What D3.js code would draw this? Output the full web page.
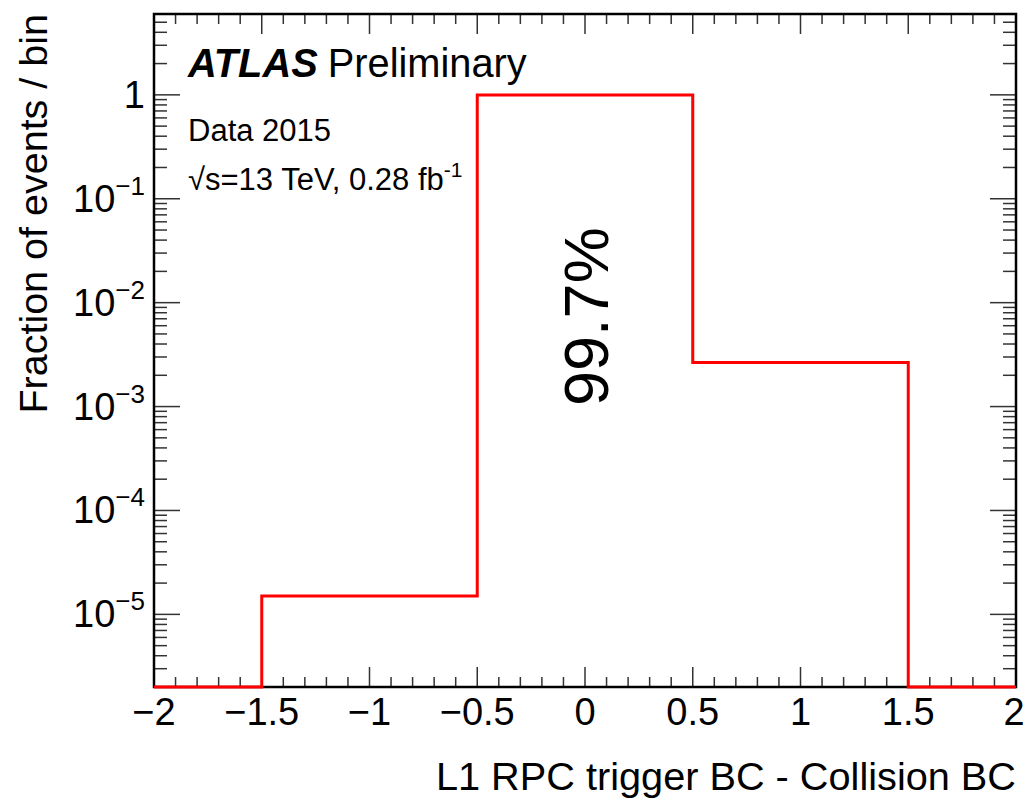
<!DOCTYPE html>
<html>
<head>
<meta charset="utf-8">
<script src="https://cdn.jsdelivr.net/npm/d3@7"></script>
<style>
  html, body { margin: 0; padding: 0; background: #fff; }
  svg { display: block; font-family: "Liberation Sans", Arial, Helvetica, sans-serif; }
</style>
</head>
<body>
<svg id="chart" width="1025" height="799"></svg>
<script>
// ---- data ----
const binEdges = [-2, -1.5, -0.5, 0.5, 1.5, 2];
const fractions = [0, 1.5e-5, 0.997, 2.65e-3, 0];
const xTickValues = [-2, -1.5, -1, -0.5, 0, 0.5, 1, 1.5, 2];
const xTickLabels = ["\u22122", "\u22121.5", "\u22121", "\u22120.5", "0", "0.5", "1", "1.5", "2"];
const yDecades = [1e-5, 1e-4, 1e-3, 1e-2, 1e-1, 1];
const yExponents = ["\u22125", "\u22124", "\u22123", "\u22122", "\u22121", ""];
const xDomain = [-2, 2];
const yDomain = [2e-6, 6];
const xTitle = "L1 RPC trigger BC - Collision BC";
const yTitle = "Fraction of events / bin";
const peakLabel = "99.7%";

// ---- layout ----
const L = 154, R = 1016, T = 14, B = 687;
const svg = d3.select("#chart");
const x = d3.scaleLinear().domain(xDomain).range([L, R]);
const y = d3.scaleLog().domain(yDomain).range([B, T]);

// x ticks (minor every 0.1, major every 0.5)
const xMinor = d3.range(-20, 21).map(i => i / 10).filter(v => Math.abs(v * 2 - Math.round(v * 2)) > 1e-6);
const tickColor = "#333";
const tg = svg.append("g").attr("stroke", tickColor).attr("stroke-width", 1.5);
xMinor.forEach(v => {
  tg.append("line").attr("x1", x(v)).attr("x2", x(v)).attr("y1", B).attr("y2", B - 10);
  tg.append("line").attr("x1", x(v)).attr("x2", x(v)).attr("y1", T).attr("y2", T + 10);
});
xTickValues.forEach(v => {
  tg.append("line").attr("x1", x(v)).attr("x2", x(v)).attr("y1", B).attr("y2", B - 20);
  tg.append("line").attr("x1", x(v)).attr("x2", x(v)).attr("y1", T).attr("y2", T + 20);
});
// y ticks
const yMinor = [];
for (let e = -6; e <= 0; e++) for (let m = 2; m <= 9; m++) {
  const v = m * Math.pow(10, e);
  if (v >= yDomain[0] && v <= yDomain[1]) yMinor.push(v);
}
yMinor.forEach(v => {
  tg.append("line").attr("x1", L).attr("x2", L + 13).attr("y1", y(v)).attr("y2", y(v));
  tg.append("line").attr("x1", R).attr("x2", R - 13).attr("y1", y(v)).attr("y2", y(v));
});
yDecades.forEach(v => {
  tg.append("line").attr("x1", L).attr("x2", L + 26).attr("y1", y(v)).attr("y2", y(v));
  tg.append("line").attr("x1", R).attr("x2", R - 26).attr("y1", y(v)).attr("y2", y(v));
});

// frame
svg.append("rect").attr("x", L).attr("y", T).attr("width", R - L).attr("height", B - T)
  .attr("fill", "none").attr("stroke", "#000").attr("stroke-width", 2.5);

// x tick labels
svg.append("g").selectAll("text").data(xTickValues).join("text")
  .attr("x", d => d === xDomain[1] ? x(d) - 2 : x(d)).attr("y", 725)
  .attr("text-anchor", "middle").attr("font-size", 38).attr("fill", "#000")
  .text((d, i) => xTickLabels[i]);

// y tick labels
const yl = svg.append("g");
yDecades.forEach((v, i) => {
  const t = yl.append("text").attr("x", 145).attr("y", y(v) + 13)
    .attr("text-anchor", "end").attr("font-size", 38).attr("fill", "#000");
  if (yExponents[i] === "") {
    t.text("1");
  } else {
    t.append("tspan").text("10");
    t.append("tspan").attr("font-size", 26).attr("dy", -17).text(yExponents[i]);
  }
});

// axis titles
svg.append("text").attr("x", R).attr("y", 790).attr("text-anchor", "end")
  .attr("font-size", 39.7).attr("fill", "#000").text(xTitle);
svg.append("text").attr("transform", `translate(47,${T}) rotate(-90)`)
  .attr("text-anchor", "end").attr("font-size", 39.5).attr("fill", "#000").text(yTitle);

// histogram outline
const pts = [];
fractions.forEach((v, i) => {
  const yy = v > 0 ? y(v) : B;
  pts.push([x(binEdges[i]), yy], [x(binEdges[i + 1]), yy]);
});
svg.append("path").attr("d", d3.line()(pts)).attr("fill", "none")
  .attr("stroke", "#ff0000").attr("stroke-width", 3);

// peak label
svg.append("text").attr("transform", `translate(608,${y(1e-2) + 14}) rotate(-90)`)
  .attr("text-anchor", "middle").attr("font-size", 63).attr("fill", "#000").text(peakLabel);

// ATLAS label
const at = svg.append("text").attr("x", 188).attr("y", 77).attr("font-size", 39.8).attr("fill", "#000");
at.append("tspan").attr("font-weight", "bold").attr("font-style", "italic").text("ATLAS");
at.append("tspan").attr("dx", 10).text("Preliminary");
svg.append("text").attr("x", 188).attr("y", 141).attr("font-size", 31).attr("fill", "#000").text("Data 2015");
const ss = svg.append("text").attr("x", 188).attr("y", 190).attr("font-size", 31).attr("fill", "#000");
ss.append("tspan").text("\u221As=13 TeV, 0.28 fb");
ss.append("tspan").attr("font-size", 21).attr("dy", -13).text("-1");
</script>
</body>
</html>
